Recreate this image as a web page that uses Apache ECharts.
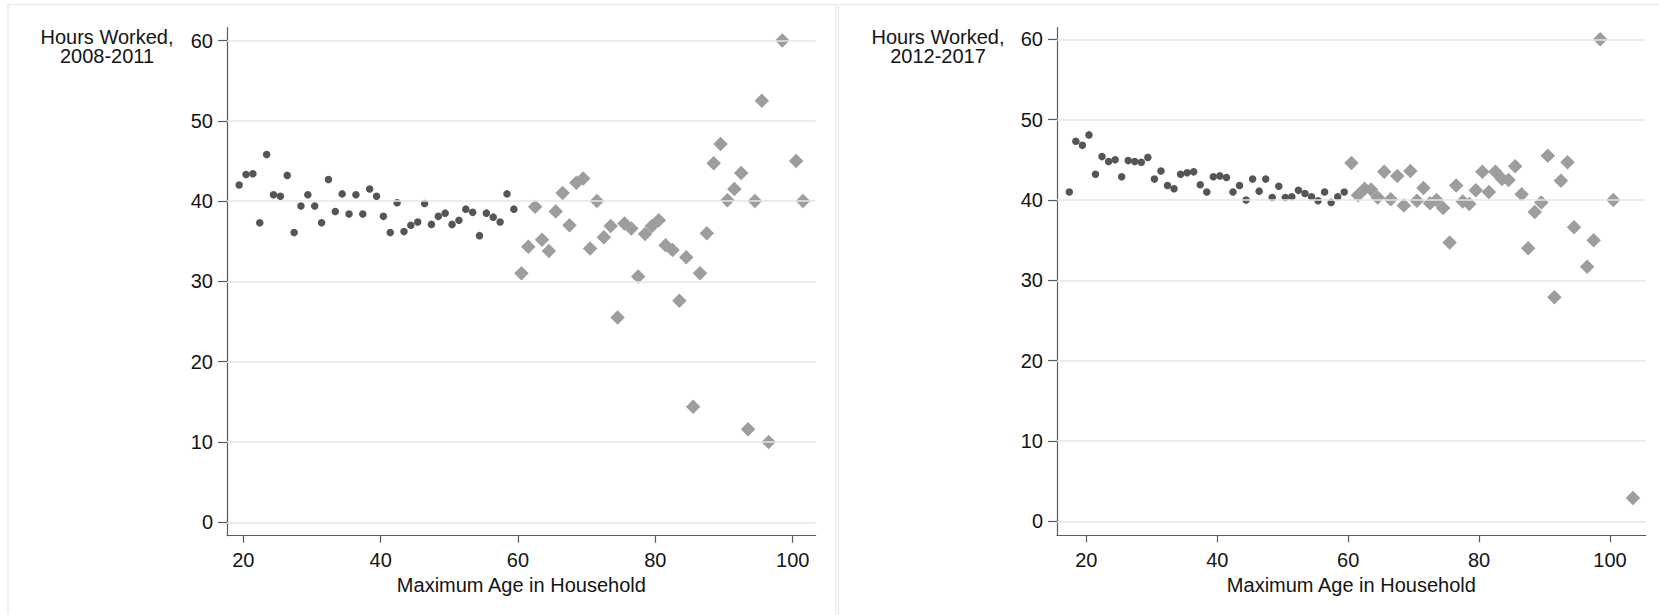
<!DOCTYPE html>
<html>
<head>
<meta charset="utf-8">
<script src="https://cdn.jsdelivr.net/npm/echarts@6/dist/echarts.min.js"></script>
<style>
html,body{margin:0;padding:0;background:#fff;}
#chart{width:1659px;height:615px;}
</style>
</head>
<body>
<div id="chart"></div>
<script>
// ---------- DATA ----------
const xTicks = [20, 40, 60, 80, 100];
const yTicks = [0, 10, 20, 30, 40, 50, 60];

// 2008-2011, under 60 (circles)
const ageYoung0811 = [19.4,20.4,21.4,22.4,23.4,24.4,25.4,26.4,27.4,28.4,29.4,30.4,31.4,32.4,33.4,34.4,35.4,36.4,37.4,38.4,39.4,40.4,41.4,42.4,43.4,44.4,45.4,46.4,47.4,48.4,49.4,50.4,51.4,52.4,53.4,54.4,55.4,56.4,57.4,58.4,59.4];
const hoursYoung0811 = [42.0,43.3,43.4,37.3,45.8,40.8,40.6,43.2,36.1,39.4,40.8,39.4,37.3,42.7,38.7,40.9,38.4,40.8,38.4,41.5,40.6,38.1,36.1,39.8,36.2,37.0,37.4,39.7,37.1,38.1,38.5,37.1,37.6,39.0,38.6,35.7,38.5,38.0,37.4,40.9,39.0];

// 2008-2011, 60 and over (diamonds)
const ageOld0811 = [60.5,61.5,62.5,63.5,64.5,65.5,66.5,67.5,68.5,69.5,70.5,71.5,72.5,73.5,74.5,75.5,76.5,77.5,78.5,79.5,80.5,81.5,82.5,83.5,84.5,85.5,86.5,87.5,88.5,89.5,90.5,91.5,92.5,93.5,94.5,95.5,96.5,98.5,100.5,101.5];
const hoursOld0811 = [31.0,34.3,39.3,35.2,33.8,38.7,41.0,37.0,42.3,42.8,34.1,40.0,35.5,36.9,25.5,37.2,36.6,30.6,35.9,36.9,37.6,34.5,33.9,27.6,33.0,14.4,31.0,36.0,44.7,47.1,40.1,41.5,43.5,11.6,40.0,52.5,10.0,60.0,45.0,40.0];

// 2012-2017, under 60 (circles)
const ageYoung1217 = [17.4,18.4,19.4,20.4,21.4,22.4,23.4,24.4,25.4,26.4,27.4,28.4,29.4,30.4,31.4,32.4,33.4,34.4,35.4,36.4,37.4,38.4,39.4,40.4,41.4,42.4,43.4,44.4,45.4,46.4,47.4,48.4,49.4,50.4,51.4,52.4,53.4,54.4,55.4,56.4,57.4,58.4,59.4];
const hoursYoung1217 = [41.0,47.3,46.8,48.1,43.2,45.4,44.8,45.0,42.9,44.9,44.8,44.7,45.3,42.6,43.6,41.8,41.4,43.2,43.4,43.5,41.9,41.0,42.9,43.0,42.8,41.0,41.8,40.0,42.6,41.1,42.6,40.3,41.7,40.3,40.4,41.2,40.8,40.4,39.9,41.0,39.7,40.4,41.0];

// 2012-2017, 60 and over (diamonds)
const ageOld1217 = [60.5,61.5,62.5,63.5,64.5,65.5,66.5,67.5,68.5,69.5,70.5,71.5,72.5,73.5,74.5,75.5,76.5,77.5,78.5,79.5,80.5,81.5,82.5,83.5,84.5,85.5,86.5,87.5,88.5,89.5,90.5,91.5,92.5,93.5,94.5,96.5,97.5,98.5,100.5,103.5];
const hoursOld1217 = [44.6,40.6,41.4,41.3,40.3,43.5,40.1,43.0,39.3,43.6,39.9,41.5,39.6,40.0,39.0,34.7,41.8,39.8,39.5,41.2,43.5,41.0,43.5,42.6,42.5,44.2,40.7,34.0,38.5,39.7,45.5,27.9,42.4,44.7,36.6,31.7,35.0,60.0,40.0,2.9];

const yTitles = ['Hours Worked,\n2008-2011', 'Hours Worked,\n2012-2017'];
const xTitle = 'Maximum Age in Household';

// ---------- STYLE ----------
const FONT = '"Liberation Sans", Arial, Helvetica, sans-serif';
const TXT = '#141414';
const AXIS = '#5a5a5a';
const GRIDC = '#e6e6e6';
const DARK = '#555555';
const LIGHT = '#9d9d9d';

function pairs(xs, ys){ return xs.map((x,i)=>[x, ys[i]]); }

function xAxisCfg(idx, min, max){
  return {
    type:'value', gridIndex:idx, min:min, max:max,
    name:xTitle, nameLocation:'middle', nameGap:35,
    nameTextStyle:{fontFamily:FONT, fontSize:20, color:TXT, lineHeight:20},
    axisLine:{show:true, onZero:false, lineStyle:{color:AXIS, width:1.2}},
    axisTick:{show:true, length:7, customValues:xTicks, lineStyle:{color:AXIS, width:1.2}},
    axisLabel:{show:true, customValues:xTicks, margin:14.5, fontFamily:FONT, fontSize:20, color:TXT, lineHeight:20},
    splitLine:{show:false}
  };
}
function yAxisCfg(idx, min, max){
  return {
    type:'value', gridIndex:idx, min:min, max:max,
    axisLine:{show:true, onZero:false, lineStyle:{color:AXIS, width:1.2}},
    axisTick:{show:true, length:9, customValues:yTicks, lineStyle:{color:AXIS, width:1.2}},
    axisLabel:{show:true, customValues:yTicks, margin:14, fontFamily:FONT, fontSize:20, color:TXT},
    splitLine:{show:false}
  };
}
function gridSeries(idx){
  return {
    type:'line', xAxisIndex:idx, yAxisIndex:idx, data:[], z:1, silent:true,
    markLine:{silent:true, symbol:['none','none'], animation:false,
      label:{show:false},
      lineStyle:{color:GRIDC, width:1.5, type:'solid'},
      emphasis:{disabled:true},
      data: yTicks.map(v=>({yAxis:v}))}
  };
}
function scatter(idx, xs, ys, shape, color, size, z){
  return {
    type:'scatter', xAxisIndex:idx, yAxisIndex:idx, data:pairs(xs, ys),
    symbol:shape, symbolSize:size, z:z,
    itemStyle:{color:color, opacity:1}
  };
}

const chart = echarts.init(document.getElementById('chart'), null, {renderer:'svg'});
chart.setOption({
  animation:false,
  backgroundColor:'#ffffff',
  grid:[
    {left:227, top:27.5, width:588.7, height:508.2},
    {left:1057, top:27.5, width:588.7, height:507.8}
  ],
  xAxis:[ xAxisCfg(0, 17.63, 103.35), xAxisCfg(1, 15.52, 105.45) ],
  yAxis:[ yAxisCfg(0, -1.67, 61.62), yAxisCfg(1, -1.74, 61.47) ],
  graphic:[
    {type:'rect', silent:true, z:-10, shape:{x:8, y:4.5, width:828, height:700}, style:{fill:'none', stroke:'#ebebeb', lineWidth:1.5}},
    {type:'rect', silent:true, z:-10, shape:{x:838.5, y:4.5, width:900, height:700}, style:{fill:'none', stroke:'#ebebeb', lineWidth:1.5}},
    {type:'text', silent:true, x:107, y:27, style:{text:yTitles[0], align:'center', textAlign:'center', verticalAlign:'top', textVerticalAlign:'top', fontFamily:FONT, fontSize:20, lineHeight:19.3, fill:TXT}},
    {type:'text', silent:true, x:938, y:27, style:{text:yTitles[1], align:'center', textAlign:'center', verticalAlign:'top', textVerticalAlign:'top', fontFamily:FONT, fontSize:20, lineHeight:19.3, fill:TXT}}
  ],
  series:[
    gridSeries(0),
    gridSeries(1),
    scatter(0, ageOld0811, hoursOld0811, 'diamond', LIGHT, 14.5, 3),
    scatter(0, ageYoung0811, hoursYoung0811, 'circle', DARK, 7.5, 4),
    scatter(1, ageOld1217, hoursOld1217, 'diamond', LIGHT, 14.5, 3),
    scatter(1, ageYoung1217, hoursYoung1217, 'circle', DARK, 7.5, 4)
  ]
});
</script>
</body>
</html>
